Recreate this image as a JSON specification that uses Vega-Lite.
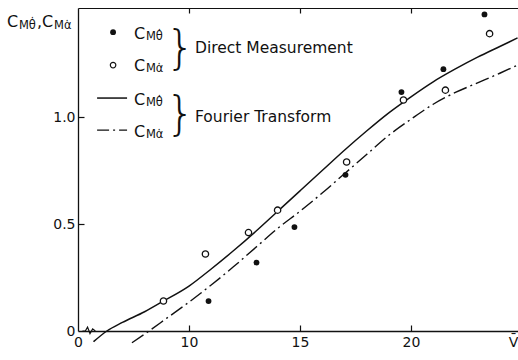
{
  "$schema": "https://vega.github.io/schema/vega-lite/v6.json",
  "width": 440,
  "height": 323,
  "autosize": {"type": "none"},
  "padding": {"left": 78, "top": 8, "right": 0, "bottom": 29},
  "background": "white",
  "config": {
    "view": {"stroke": null},
    "font": "DejaVu Sans",
    "axis": {
      "grid": false,
      "domainColor": "#111",
      "tickColor": "#111",
      "labelColor": "#111",
      "labelFont": "DejaVu Sans",
      "labelFontSize": 14,
      "domainWidth": 1.3,
      "tickWidth": 1.2,
      "title": null
    }
  },
  "resolve": {"axis": {"x": "independent", "y": "independent"}},
  "datasets": {
    "meas": [
      {"V": 10.88, "Cm": 0.14, "s": "theta"},
      {"V": 13.04, "Cm": 0.32, "s": "theta"},
      {"V": 14.75, "Cm": 0.486, "s": "theta"},
      {"V": 17.05, "Cm": 0.73, "s": "theta"},
      {"V": 19.57, "Cm": 1.117, "s": "theta"},
      {"V": 21.46, "Cm": 1.224, "s": "theta"},
      {"V": 23.31, "Cm": 1.48, "s": "theta"},
      {"V": 8.85, "Cm": 0.14, "s": "alpha"},
      {"V": 10.74, "Cm": 0.36, "s": "alpha"},
      {"V": 12.68, "Cm": 0.46, "s": "alpha"},
      {"V": 13.99, "Cm": 0.565, "s": "alpha"},
      {"V": 17.1, "Cm": 0.79, "s": "alpha"},
      {"V": 19.66, "Cm": 1.08, "s": "alpha"},
      {"V": 21.55, "Cm": 1.126, "s": "alpha"},
      {"V": 23.54, "Cm": 1.39, "s": "alpha"}
    ],
    "fourier": [
      {"V": 5.7, "Cm": -0.05, "s": "theta"},
      {"V": 6.3, "Cm": 0.0, "s": "theta"},
      {"V": 7.0, "Cm": 0.04, "s": "theta"},
      {"V": 8.0, "Cm": 0.09, "s": "theta"},
      {"V": 8.8, "Cm": 0.137, "s": "theta"},
      {"V": 10.0, "Cm": 0.21, "s": "theta"},
      {"V": 11.0, "Cm": 0.29, "s": "theta"},
      {"V": 12.0, "Cm": 0.375, "s": "theta"},
      {"V": 13.0, "Cm": 0.465, "s": "theta"},
      {"V": 14.0, "Cm": 0.56, "s": "theta"},
      {"V": 15.0, "Cm": 0.655, "s": "theta"},
      {"V": 16.0, "Cm": 0.75, "s": "theta"},
      {"V": 17.0, "Cm": 0.845, "s": "theta"},
      {"V": 18.0, "Cm": 0.935, "s": "theta"},
      {"V": 19.0, "Cm": 1.02, "s": "theta"},
      {"V": 20.0, "Cm": 1.095, "s": "theta"},
      {"V": 21.0, "Cm": 1.165, "s": "theta"},
      {"V": 22.0, "Cm": 1.225, "s": "theta"},
      {"V": 23.0, "Cm": 1.28, "s": "theta"},
      {"V": 24.0, "Cm": 1.33, "s": "theta"},
      {"V": 24.8, "Cm": 1.37, "s": "theta"},
      {"V": 7.43, "Cm": -0.055, "s": "alpha"},
      {"V": 8.2, "Cm": 0.0, "s": "alpha"},
      {"V": 9.0, "Cm": 0.06, "s": "alpha"},
      {"V": 10.0, "Cm": 0.135, "s": "alpha"},
      {"V": 11.0, "Cm": 0.215, "s": "alpha"},
      {"V": 12.0, "Cm": 0.3, "s": "alpha"},
      {"V": 13.0, "Cm": 0.39, "s": "alpha"},
      {"V": 14.0, "Cm": 0.48, "s": "alpha"},
      {"V": 15.0, "Cm": 0.56, "s": "alpha"},
      {"V": 16.0, "Cm": 0.645, "s": "alpha"},
      {"V": 17.0, "Cm": 0.735, "s": "alpha"},
      {"V": 18.0, "Cm": 0.825, "s": "alpha"},
      {"V": 19.0, "Cm": 0.915, "s": "alpha"},
      {"V": 20.0, "Cm": 0.99, "s": "alpha"},
      {"V": 21.0, "Cm": 1.06, "s": "alpha"},
      {"V": 22.0, "Cm": 1.115, "s": "alpha"},
      {"V": 23.0, "Cm": 1.16, "s": "alpha"},
      {"V": 24.0, "Cm": 1.205, "s": "alpha"},
      {"V": 24.8, "Cm": 1.243, "s": "alpha"}
    ],
    "squiggle": [
      {"V": 5.2, "Cm": 0.0},
      {"V": 5.33, "Cm": 0.0},
      {"V": 5.43, "Cm": 0.018},
      {"V": 5.54, "Cm": -0.012},
      {"V": 5.66, "Cm": 0.01},
      {"V": 5.78, "Cm": 0.0}
    ],
    "legSym": [
      {"V": 6.58, "Cm": 1.397, "s": "theta"},
      {"V": 6.58, "Cm": 1.243, "s": "alpha"}
    ],
    "legLines": [
      {"V": 5.86, "V2": 7.21, "Cm": 1.089, "s": "theta"},
      {"V": 5.86, "V2": 7.21, "Cm": 0.939, "s": "alpha"}
    ],
    "bigC": [
      {"V": 1.8, "Cm": 1.445, "t": "C"},
      {"V": 3.15, "Cm": 1.445, "t": ","},
      {"V": 3.38, "Cm": 1.445, "t": "C"},
      {"V": 7.52, "Cm": 1.388, "t": "C"},
      {"V": 7.52, "Cm": 1.238, "t": "C"},
      {"V": 7.52, "Cm": 1.079, "t": "C"},
      {"V": 7.52, "Cm": 0.93, "t": "C"}
    ],
    "subs": [
      {"V": 2.34, "Cm": 1.428, "t": "Mθ̇"},
      {"V": 3.92, "Cm": 1.428, "t": "Mα̇"},
      {"V": 8.06, "Cm": 1.374, "t": "Mθ̇"},
      {"V": 8.06, "Cm": 1.224, "t": "Mα̇"},
      {"V": 8.06, "Cm": 1.065, "t": "Mθ̇"},
      {"V": 8.06, "Cm": 0.916, "t": "Mα̇"}
    ],
    "phrases": [
      {"V": 10.27, "Cm": 1.322, "t": "Direct Measurement"},
      {"V": 10.27, "Cm": 1.0, "t": "Fourier Transform"}
    ],
    "braces": [
      {"V": 8.95, "Cm": 1.318, "t": "}"},
      {"V": 8.95, "Cm": 1.012, "t": "}"}
    ]
  },
  "layer": [
    {
      "data": {"name": "fourier"},
      "transform": [{"filter": "datum.s == 'theta'"}],
      "mark": {"type": "line", "color": "#111", "strokeWidth": 1.5, "interpolate": "monotone"},
      "encoding": {
        "x": {
          "field": "V", "type": "quantitative",
          "scale": {"domain": [5, 24.82], "nice": false, "zero": false},
          "axis": {
            "orient": "bottom",
            "values": [5, 10, 15, 20, 24.6],
            "labelExpr": "datum.value == 5 ? '0' : datum.value > 24 ? 'V̄' : datum.label",
            "tickSize": -6,
            "tickOpacity": {"condition": {"test": "datum.value == 5 || datum.value > 24", "value": 0}, "value": 1},
            "labelPadding": 10,
            "labelFlush": false,
            "labelOverlap": false
          }
        },
        "y": {
          "field": "Cm", "type": "quantitative",
          "scale": {"domain": [0, 1.51], "nice": false, "zero": false},
          "axis": {
            "orient": "left",
            "values": [0, 0.5, 1.0],
            "labelExpr": "datum.value == 0 ? '0' : format(datum.value, '.1f')",
            "tickSize": -6,
            "tickOpacity": {"condition": {"test": "datum.value == 0", "value": 0}, "value": 1},
            "labelPadding": 9,
            "labelFlush": false,
            "labelOverlap": false
          }
        }
      }
    },
    {
      "data": {"name": "fourier"},
      "transform": [{"filter": "datum.s == 'alpha'"}],
      "mark": {"type": "line", "color": "#111", "strokeWidth": 1.4, "interpolate": "monotone", "strokeDash": [14, 4, 2, 4]},
      "encoding": {
        "x": {"field": "V", "type": "quantitative", "axis": null},
        "y": {"field": "Cm", "type": "quantitative", "axis": null}
      }
    },
    {
      "data": {"name": "squiggle"},
      "mark": {"type": "line", "color": "#111", "strokeWidth": 1.2},
      "encoding": {
        "x": {
          "field": "V", "type": "quantitative",
          "axis": {"orient": "top", "values": [10, 15, 20], "labels": false, "tickSize": -5, "domainWidth": 1.2}
        },
        "y": {"field": "Cm", "type": "quantitative", "axis": null}
      }
    },
    {
      "data": {"name": "meas"},
      "transform": [{"filter": "datum.s == 'theta'"}],
      "mark": {"type": "point", "filled": true, "color": "#111", "size": 34, "opacity": 1, "shape": "circle"},
      "encoding": {
        "x": {"field": "V", "type": "quantitative", "axis": null},
        "y": {"field": "Cm", "type": "quantitative", "axis": null}
      }
    },
    {
      "data": {"name": "meas"},
      "transform": [{"filter": "datum.s == 'alpha'"}],
      "mark": {"type": "point", "filled": false, "color": "#111", "fill": "white", "size": 40, "strokeWidth": 1.3, "opacity": 1, "shape": "circle"},
      "encoding": {
        "x": {"field": "V", "type": "quantitative", "axis": null},
        "y": {"field": "Cm", "type": "quantitative", "axis": null}
      }
    },
    {
      "data": {"name": "legSym"},
      "transform": [{"filter": "datum.s == 'theta'"}],
      "mark": {"type": "point", "filled": true, "color": "#111", "size": 34, "opacity": 1, "shape": "circle"},
      "encoding": {
        "x": {"field": "V", "type": "quantitative", "axis": null},
        "y": {"field": "Cm", "type": "quantitative", "axis": null}
      }
    },
    {
      "data": {"name": "legSym"},
      "transform": [{"filter": "datum.s == 'alpha'"}],
      "mark": {"type": "point", "filled": false, "color": "#111", "size": 30, "strokeWidth": 1.2, "opacity": 1, "shape": "circle"},
      "encoding": {
        "x": {"field": "V", "type": "quantitative", "axis": null},
        "y": {"field": "Cm", "type": "quantitative", "axis": null}
      }
    },
    {
      "data": {"name": "legLines"},
      "transform": [{"filter": "datum.s == 'theta'"}],
      "mark": {"type": "rule", "color": "#111", "strokeWidth": 1.5},
      "encoding": {
        "x": {"field": "V", "type": "quantitative", "axis": null},
        "x2": {"field": "V2"},
        "y": {"field": "Cm", "type": "quantitative", "axis": null}
      }
    },
    {
      "data": {"name": "legLines"},
      "transform": [{"filter": "datum.s == 'alpha'"}],
      "mark": {"type": "rule", "color": "#111", "strokeWidth": 1.4, "strokeDash": [12, 4, 2, 4]},
      "encoding": {
        "x": {"field": "V", "type": "quantitative", "axis": null},
        "x2": {"field": "V2"},
        "y": {"field": "Cm", "type": "quantitative", "axis": null}
      }
    },
    {
      "data": {"name": "bigC"},
      "mark": {"type": "text", "align": "left", "baseline": "middle", "fontSize": 16, "color": "#111", "font": "DejaVu Sans"},
      "encoding": {
        "x": {"field": "V", "type": "quantitative", "axis": null},
        "y": {"field": "Cm", "type": "quantitative", "axis": null},
        "text": {"field": "t"}
      }
    },
    {
      "data": {"name": "subs"},
      "mark": {"type": "text", "align": "left", "baseline": "middle", "fontSize": 11.5, "color": "#111", "font": "DejaVu Sans"},
      "encoding": {
        "x": {"field": "V", "type": "quantitative", "axis": null},
        "y": {"field": "Cm", "type": "quantitative", "axis": null},
        "text": {"field": "t"}
      }
    },
    {
      "data": {"name": "phrases"},
      "mark": {"type": "text", "align": "left", "baseline": "middle", "fontSize": 15.5, "color": "#111", "font": "DejaVu Sans"},
      "encoding": {
        "x": {"field": "V", "type": "quantitative", "axis": null},
        "y": {"field": "Cm", "type": "quantitative", "axis": null},
        "text": {"field": "t"}
      }
    },
    {
      "data": {"name": "braces"},
      "mark": {"type": "text", "align": "left", "baseline": "middle", "fontSize": 46, "fontWeight": 100, "color": "#111", "font": "DejaVu Sans"},
      "encoding": {
        "x": {"field": "V", "type": "quantitative", "axis": null},
        "y": {"field": "Cm", "type": "quantitative", "axis": null},
        "text": {"field": "t"}
      }
    }
  ]
}
